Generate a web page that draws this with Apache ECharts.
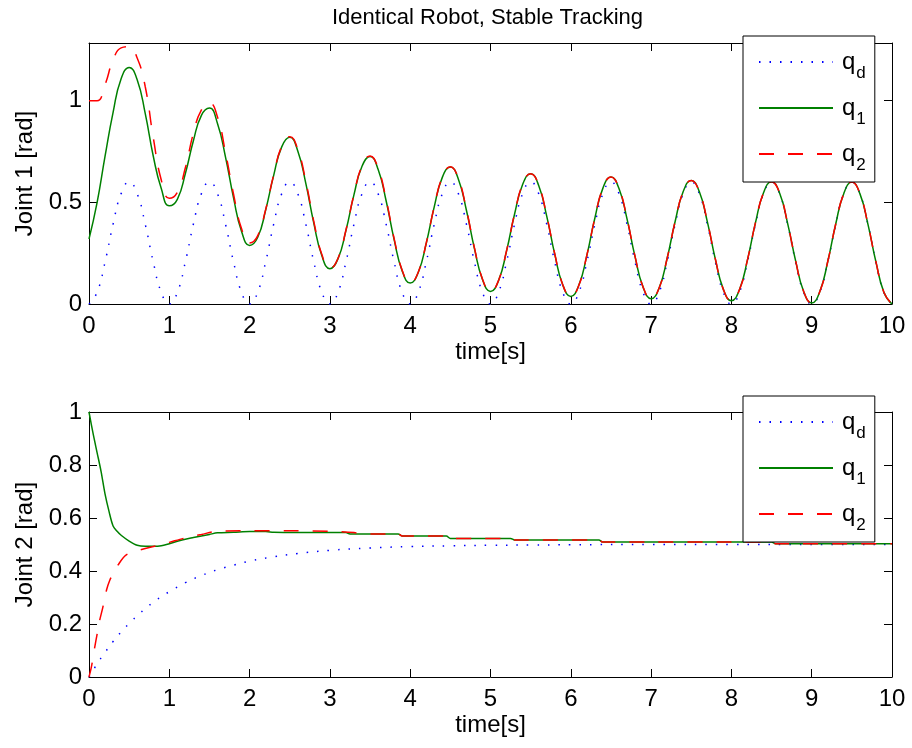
<!DOCTYPE html>
<html>
<head>
<meta charset="utf-8">
<title>Identical Robot, Stable Tracking</title>
<script src="https://cdn.jsdelivr.net/npm/echarts@6/dist/echarts.min.js"></script>
<style>
  html, body { margin: 0; padding: 0; background: #fff; }
  #chart { width: 912px; height: 748px; }
</style>
</head>
<body>
<div id="chart"></div>
<script>
// ---- Joint 1: sampled every 0.1 s from 0 to 10 s ----
const tJ1 = Array.from({ length: 101 }, (_, i) => Math.round(i) / 10);

const qdJ1 = [
  0, 0.057, 0.207, 0.393, 0.543, 0.6, 0.543, 0.393, 0.207, 0.057,
  0, 0.057, 0.207, 0.393, 0.543, 0.6, 0.543, 0.393, 0.207, 0.057,
  0, 0.057, 0.207, 0.393, 0.543, 0.6, 0.543, 0.393, 0.207, 0.057,
  0, 0.057, 0.207, 0.393, 0.543, 0.6, 0.543, 0.393, 0.207, 0.057,
  0, 0.057, 0.207, 0.393, 0.543, 0.6, 0.543, 0.393, 0.207, 0.057,
  0, 0.057, 0.207, 0.393, 0.543, 0.6, 0.543, 0.393, 0.207, 0.057,
  0, 0.057, 0.207, 0.393, 0.543, 0.6, 0.543, 0.393, 0.207, 0.057,
  0, 0.057, 0.207, 0.393, 0.543, 0.6, 0.543, 0.393, 0.207, 0.057,
  0, 0.057, 0.207, 0.393, 0.543, 0.6, 0.543, 0.393, 0.207, 0.057,
  0, 0.057, 0.207, 0.393, 0.543, 0.6, 0.543, 0.393, 0.207, 0.057,
  0
];

const q1J1 = [
  0.32, 0.497, 0.727, 0.943, 1.108, 1.164, 1.103, 0.938, 0.728, 0.568,
  0.483, 0.515, 0.642, 0.803, 0.928, 0.964, 0.888, 0.723, 0.522, 0.357,
  0.288, 0.327, 0.462, 0.633, 0.773, 0.82, 0.753, 0.593, 0.397, 0.237,
  0.174, 0.222, 0.362, 0.538, 0.678, 0.726, 0.663, 0.508, 0.317, 0.163,
  0.103, 0.155, 0.299, 0.479, 0.623, 0.674, 0.614, 0.461, 0.273, 0.121,
  0.062, 0.115, 0.261, 0.443, 0.588, 0.641, 0.583, 0.432, 0.245, 0.094,
  0.037, 0.092, 0.239, 0.423, 0.570, 0.625, 0.568, 0.419, 0.233, 0.083,
  0.026, 0.079, 0.225, 0.407, 0.553, 0.608, 0.553, 0.405, 0.221, 0.072,
  0.016, 0.070, 0.217, 0.400, 0.547, 0.602, 0.546, 0.397, 0.212, 0.062,
  0.005, 0.060, 0.209, 0.395, 0.544, 0.600, 0.543, 0.393, 0.207, 0.057,
  0
];

const q2J1 = [
  1.0, 1.0, 1.08, 1.2, 1.26, 1.266, 1.21, 1.07, 0.82, 0.61,
  0.52, 0.55, 0.67, 0.84, 0.955, 0.988, 0.92, 0.745, 0.54, 0.37,
  0.30, 0.335, 0.465, 0.636, 0.776, 0.823, 0.76, 0.603, 0.405, 0.243,
  0.176, 0.224, 0.364, 0.54, 0.68, 0.728, 0.668, 0.514, 0.322, 0.166,
  0.104, 0.156, 0.3, 0.48, 0.624, 0.675, 0.617, 0.465, 0.276, 0.123,
  0.062, 0.116, 0.262, 0.444, 0.589, 0.641, 0.585, 0.434, 0.247, 0.095,
  0.037, 0.092, 0.24, 0.424, 0.57, 0.625, 0.569, 0.42, 0.234, 0.084,
  0.026, 0.079, 0.225, 0.407, 0.553, 0.608, 0.553, 0.406, 0.222, 0.072,
  0.016, 0.07, 0.217, 0.4, 0.547, 0.602, 0.546, 0.397, 0.212, 0.062,
  0.005, 0.06, 0.209, 0.395, 0.544, 0.6, 0.543, 0.393, 0.207, 0.057,
  0
];

// ---- Joint 2: each trace has its own time samples ----
const tQdJ2 = [0, 0.1, 0.2, 0.3, 0.4, 0.5, 0.6, 0.7, 0.8, 0.9, 1.0, 1.2, 1.4, 1.6, 1.8,
               2.0, 2.3, 2.6, 3.0, 3.5, 4.0, 4.5, 5.0, 5.5, 6.0, 7.0, 8.0, 9.0, 10.0];
const qdJ2  = [0, 0.049, 0.093, 0.134, 0.170, 0.202, 0.231, 0.258, 0.282, 0.303, 0.322, 0.356, 0.383, 0.405, 0.422,
               0.437, 0.454, 0.466, 0.478, 0.487, 0.492, 0.495, 0.497, 0.498, 0.499, 0.5, 0.5, 0.5, 0.5];

const tQ1J2 = [0, 0.05, 0.1, 0.15, 0.2, 0.25, 0.3, 0.35, 0.4, 0.5, 0.6, 0.7, 0.8, 0.9, 1.0,
               1.1, 1.2, 1.3, 1.4, 1.5, 1.6, 1.8, 2.0, 2.2, 2.3, 2.6, 3.0, 3.2, 3.25, 3.85,
               3.9, 4.45, 4.5, 5.25, 5.3, 6.35, 6.4, 8.5, 8.55, 10.0];
const q1J2  = [1.0, 0.92, 0.848, 0.776, 0.69, 0.624, 0.57, 0.55, 0.535, 0.513, 0.497, 0.493, 0.493, 0.495, 0.503,
               0.512, 0.52, 0.526, 0.532, 0.538, 0.544, 0.546, 0.549, 0.549, 0.546, 0.545, 0.545, 0.545, 0.54, 0.54,
               0.532, 0.532, 0.523, 0.523, 0.517, 0.517, 0.509, 0.509, 0.503, 0.503];

const tQ2J2 = [0, 0.03, 0.07, 0.1, 0.13, 0.17, 0.22, 0.26, 0.3, 0.36, 0.46, 0.63, 0.75, 0.88, 1.0,
               1.2, 1.4, 1.6, 2.0, 2.5, 3.0, 3.3, 3.4, 3.85, 3.9, 4.45, 4.5, 5.25, 5.3, 6.35,
               6.4, 8.5, 8.55, 10.0];
const q2J2  = [0, 0.038, 0.11, 0.16, 0.21, 0.26, 0.33, 0.366, 0.39, 0.422, 0.46, 0.479, 0.489, 0.498, 0.508,
               0.525, 0.538, 0.55, 0.552, 0.552, 0.55, 0.545, 0.54, 0.54, 0.532, 0.532, 0.523, 0.523, 0.517, 0.517,
               0.509, 0.509, 0.503, 0.503];

// ---- axis ticks ----
const timeTicks   = { min: 0, max: 10, interval: 1, showMax: true };
const joint1Ticks = { min: 0, max: 1.284, interval: 0.5, showMax: false };
const joint2Ticks = { min: 0, max: 1, interval: 0.2, showMax: true };

const FONT = '"Liberation Sans", Arial, Helvetica, sans-serif';
const BLUE = '#0000ff', GREEN = '#008000', RED = '#ff0000';

const zip = (t, v) => t.map((x, i) => [x, v[i]]);

function xAxisDef(gridIndex, position, withLabels) {
  return {
    type: 'value', gridIndex, position,
    min: timeTicks.min, max: timeTicks.max, interval: timeTicks.interval,
    axisLine: { show: true, onZero: false, lineStyle: { color: '#000', width: 1 } },
    axisTick: { show: true, inside: true, length: 8, lineStyle: { color: '#000', width: 1 } },
    axisLabel: { show: withLabels, color: '#000', fontSize: 24, fontFamily: FONT, margin: 10 },
    splitLine: { show: false },
    name: withLabels ? 'time[s]' : '',
    nameLocation: 'middle', nameGap: 36,
    nameTextStyle: { color: '#000', fontSize: 24, fontFamily: FONT }
  };
}

function yAxisDef(gridIndex, position, ticks, name) {
  const left = position === 'left';
  return {
    type: 'value', gridIndex, position,
    min: ticks.min, max: ticks.max, interval: ticks.interval,
    axisLine: { show: true, onZero: false, lineStyle: { color: '#000', width: 1 } },
    axisTick: { show: true, inside: true, length: 8, lineStyle: { color: '#000', width: 1 } },
    axisLabel: {
      show: left, color: '#000', fontSize: 24, fontFamily: FONT, margin: 7,
      showMaxLabel: ticks.showMax,
      formatter: v => String(+v.toFixed(2))
    },
    splitLine: { show: false },
    name: left ? name : '',
    nameLocation: 'middle', nameGap: 50,
    nameTextStyle: { color: '#000', fontSize: 24, fontFamily: FONT }
  };
}

function lineSeries(name, xi, data, color, type, smooth) {
  return {
    name, type: 'line', xAxisIndex: xi, yAxisIndex: xi,
    data, symbol: 'none', showSymbol: false, smooth: smooth,
    color, itemStyle: { color },
    lineStyle: { color, width: 1.5, type, cap: 'butt' },
    emphasis: { disabled: true },
    z: 2
  };
}

const legendNames = { qd: '{q|q}{s|d}', q1: '{q|q}{s|1}', q2: '{q|q}{s|2}' };

function legendDef(top) {
  return {
    data: ['qd', 'q1', 'q2'],
    orient: 'vertical',
    left: 743, top,
    itemWidth: 74, itemHeight: 14, itemGap: 14,
    padding: [14, 9, 8, 15],
    backgroundColor: '#fff', borderColor: '#000', borderWidth: 1,
    selectedMode: false,
    itemStyle: { color: 'rgba(0,0,0,0)', borderWidth: 0, opacity: 0 },
    formatter: n => legendNames[n],
    textStyle: {
      color: '#000', fontFamily: FONT,
      rich: {
        q: { fontSize: 24, fontFamily: FONT, color: '#000', verticalAlign: 'top', lineHeight: 24, padding: [0, 0, 0, 4] },
        s: { fontSize: 17, fontFamily: FONT, color: '#000', verticalAlign: 'top', lineHeight: 17, padding: [15, 0, 0, 1] }
      }
    },
    z: 10
  };
}

const chart = echarts.init(document.getElementById('chart'), null, { renderer: 'canvas' });
chart.setOption({
  animation: false,
  backgroundColor: '#fff',
  title: {
    text: 'Identical Robot, Stable Tracking',
    left: 332, top: 7, padding: 0,
    textStyle: { color: '#000', fontSize: 22, fontWeight: 'normal', fontFamily: FONT }
  },
  grid: [
    { left: 89, top: 43, width: 803, height: 261, containLabel: false },
    { left: 89, top: 412, width: 803, height: 265, containLabel: false }
  ],
  xAxis: [
    xAxisDef(0, 'bottom', true), xAxisDef(0, 'top', false),
    xAxisDef(1, 'bottom', true), xAxisDef(1, 'top', false)
  ],
  yAxis: [
    yAxisDef(0, 'left', joint1Ticks, 'Joint 1 [rad]'), yAxisDef(0, 'right', joint1Ticks, ''),
    yAxisDef(1, 'left', joint2Ticks, 'Joint 2 [rad]'), yAxisDef(1, 'right', joint2Ticks, '')
  ],
  legend: [legendDef(36), legendDef(396)],
  series: [
    lineSeries('qd', 0, zip(tJ1, qdJ1), BLUE, [1.5, 9], 0.5),
    lineSeries('q1', 0, zip(tJ1, q1J1), GREEN, 'solid', 0.5),
    lineSeries('q2', 0, zip(tJ1, q2J1), RED, [15, 14], 0.5),
    lineSeries('qd', 2, zip(tQdJ2, qdJ2), BLUE, [1.5, 9], 0.4),
    lineSeries('q1', 2, zip(tQ1J2, q1J2), GREEN, 'solid', 0.3),
    lineSeries('q2', 2, zip(tQ2J2, q2J2), RED, [15, 14], 0.3)
  ]
});
</script>
</body>
</html>
